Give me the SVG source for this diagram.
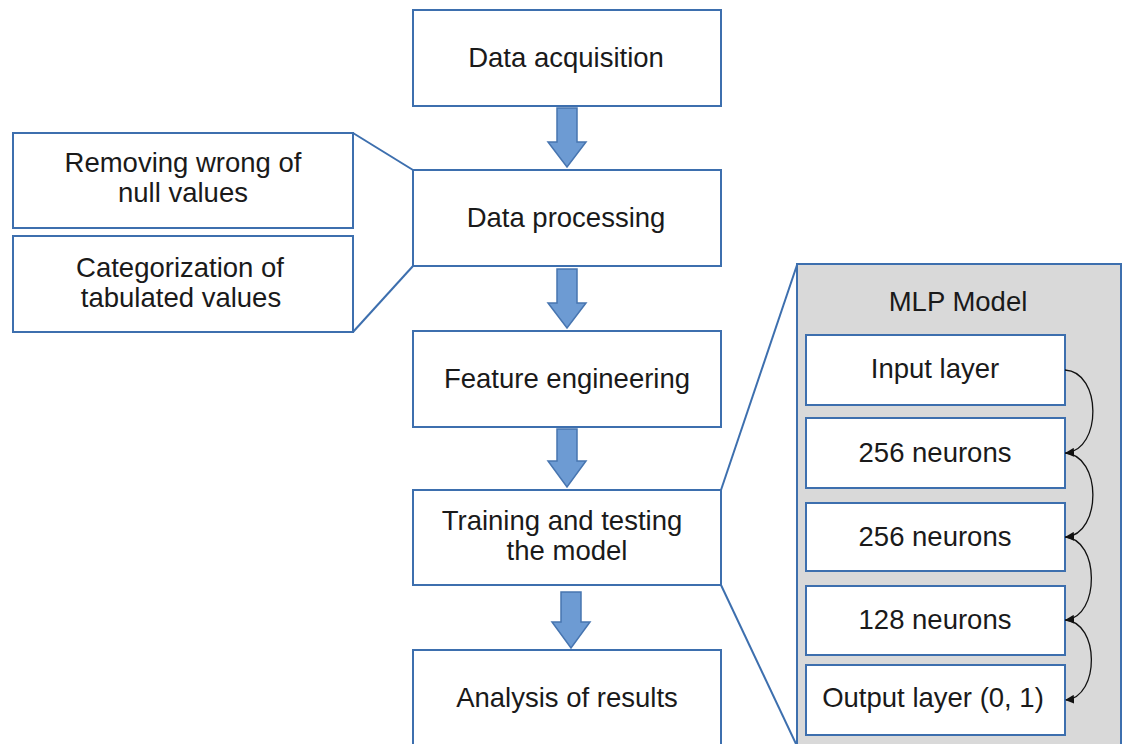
<svg xmlns="http://www.w3.org/2000/svg" width="1125" height="744" viewBox="0 0 1125 744">
<defs>
<style>
.box{fill:#fff;stroke:#3d6fae;stroke-width:2}
.mlp{fill:#d9d9d9;stroke:#3d6fae;stroke-width:2}
.t{font-family:"Liberation Sans",Arial,sans-serif;font-size:27.5px;fill:#1a1a1a;text-anchor:middle}
.blk{fill:#6d9bd3;stroke:#4775b0;stroke-width:1.5}
.ln{fill:none;stroke:#3d6fae;stroke-width:2}
.cv{fill:none;stroke:#111;stroke-width:1.3;marker-end:url(#ah)}
</style>
<marker id="ah" viewBox="0 0 10 10" refX="9" refY="5" markerWidth="9" markerHeight="9" markerUnits="userSpaceOnUse" orient="auto">
<path d="M0,0 L10,5 L0,10 z" fill="#111"/>
</marker>
</defs>
<rect width="1125" height="744" fill="#fff"/>
<g id="connectors">
<line class="ln" x1="353" y1="133" x2="413" y2="170"/>
<line class="ln" x1="353" y1="332" x2="413" y2="266"/>
<line class="ln" x1="721" y1="490" x2="797" y2="265"/>
<line class="ln" x1="721" y1="585" x2="797" y2="746"/>
<path class="blk" d="M557,108 H577 V142 H586 L567,167 L548,142 H557 Z"/>
<path class="blk" d="M557,269 H577 V303 H586 L567,328 L548,303 H557 Z"/>
<path class="blk" d="M557,429 H577 V461 H586 L567,487 L548,461 H557 Z"/>
<path class="blk" d="M561,592 H581 V622 H590 L571,648 L552,622 H561 Z"/>
</g>
<g id="mlp-model">
<rect class="mlp" x="797" y="264" width="324" height="490"/>
<text class="t" x="958" y="311">MLP Model</text>
</g>
<g id="data-acquisition">
<rect class="box" x="413" y="10" width="308" height="96"/>
<text class="t" x="566" y="67">Data acquisition</text>
</g>
<g id="data-processing">
<rect class="box" x="413" y="170" width="308" height="96"/>
<text class="t" x="566" y="227">Data processing</text>
</g>
<g id="removing">
<rect class="box" x="13" y="133" width="340" height="95"/>
<text class="t" x="183" y="172">Removing wrong of</text>
<text class="t" x="183" y="202">null values</text>
</g>
<g id="categorization">
<rect class="box" x="13" y="236" width="340" height="96"/>
<text class="t" x="180" y="277">Categorization of</text>
<text class="t" x="181" y="307">tabulated values</text>
</g>
<g id="feature-engineering">
<rect class="box" x="413" y="331" width="308" height="96"/>
<text class="t" x="567" y="388">Feature engineering</text>
</g>
<g id="training">
<rect class="box" x="413" y="490" width="308" height="95"/>
<text class="t" x="562" y="530">Training and testing</text>
<text class="t" x="567" y="560">the model</text>
</g>
<g id="analysis">
<rect class="box" x="413" y="650" width="308" height="100"/>
<text class="t" x="567" y="707">Analysis of results</text>
</g>
<g id="input-layer">
<rect class="box" x="806" y="335" width="259" height="70"/>
<text class="t" x="935" y="378">Input layer</text>
</g>
<g id="n256a">
<rect class="box" x="806" y="418" width="259" height="70"/>
<text class="t" x="935" y="462">256 neurons</text>
</g>
<g id="n256b">
<rect class="box" x="806" y="503" width="259" height="68"/>
<text class="t" x="935" y="546">256 neurons</text>
</g>
<g id="n128">
<rect class="box" x="806" y="586" width="259" height="69"/>
<text class="t" x="935" y="629">128 neurons</text>
</g>
<g id="output-layer">
<rect class="box" x="806" y="665" width="259" height="70"/>
<text class="t" x="933" y="707">Output layer (0, 1)</text>
</g>
<g id="layer-connectors">
<path class="cv" d="M1065,370 C1102,372 1102,450 1066,453"/>
<path class="cv" d="M1065,453 C1102,455 1102,534 1066,537"/>
<path class="cv" d="M1065,537 C1100,539 1100,617 1066,620"/>
<path class="cv" d="M1065,620 C1100,622 1100,697 1066,700"/>
</g>
</svg>
